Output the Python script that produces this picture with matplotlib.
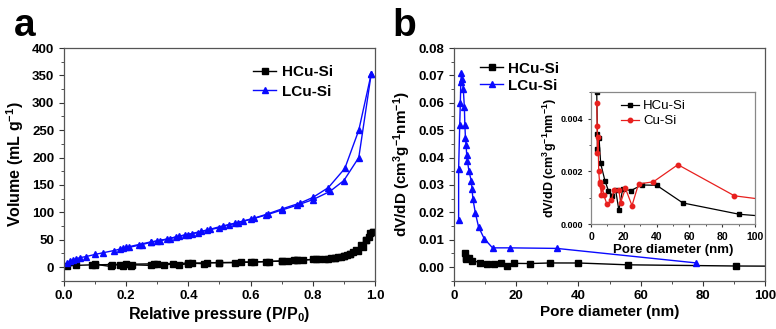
import numpy as np
import matplotlib.pyplot as plt
from matplotlib.ticker import MultipleLocator

plt.rcParams['font.family'] = ['Liberation Sans', 'DejaVu Sans']
plt.rcParams['font.weight'] = 'bold'
plt.rcParams['axes.labelweight'] = 'bold'
plt.rcParams['mathtext.fontset'] = 'custom'
plt.rcParams['mathtext.rm'] = 'Liberation Sans:bold'
plt.rcParams['mathtext.bf'] = 'Liberation Sans:bold'
plt.rcParams['mathtext.default'] = 'bf'

# --- panel a: N2 isotherms ---
h_ads_x = [0.01, 0.04, 0.09, 0.10, 0.15, 0.155, 0.18, 0.19, 0.215, 0.22, 0.28, 0.29, 0.32,
           0.35, 0.37, 0.40, 0.41, 0.45, 0.46, 0.50, 0.55, 0.57, 0.61, 0.65, 0.66, 0.70,
           0.72, 0.74, 0.75, 0.77, 0.81, 0.82, 0.85, 0.86, 0.87, 0.88, 0.89, 0.90, 0.91,
           0.92, 0.93, 0.945, 0.96, 0.97, 0.98, 0.994]
h_ads_y = [2, 3, 4, 5, 1, 4, 4, 1, 1, 4, 3, 5, 3, 6, 4, 6, 7, 6, 8, 8, 8, 9, 9, 10, 10, 11,
           11, 12, 12, 13, 14, 14, 15, 16, 17, 18, 19, 20, 22, 24, 27, 29, 37, 49, 55, 64]
h_des_x = [0.994, 0.985, 0.97, 0.955, 0.94, 0.92, 0.90, 0.87, 0.84, 0.80, 0.75, 0.70,
           0.60, 0.50, 0.40, 0.30, 0.20, 0.10]
h_des_y = [64, 62, 50, 40, 31, 24, 20, 17, 15, 14, 12, 11, 9, 8, 7, 6, 5, 4]

l_ads_x = [0.01, 0.02, 0.03, 0.04, 0.05, 0.07, 0.10, 0.125, 0.16, 0.19, 0.21, 0.25, 0.28,
           0.31, 0.34, 0.37, 0.40, 0.43, 0.46, 0.50, 0.53, 0.56, 0.60, 0.65, 0.70, 0.75,
           0.80, 0.855, 0.90, 0.948, 0.988]
l_ads_y = [8, 11, 13, 15, 17, 19, 23, 26, 30, 34, 36, 41, 45, 48, 52, 56, 59, 63, 67, 72,
           77, 81, 87, 95, 104, 113, 123, 138, 158, 200, 353]
l_des_x = [0.988, 0.948, 0.903, 0.85, 0.80, 0.76, 0.70, 0.655, 0.61, 0.575, 0.55, 0.51,
           0.47, 0.44, 0.41, 0.39, 0.36, 0.33, 0.30, 0.28, 0.24, 0.20, 0.18]
l_des_y = [353, 250, 180, 145, 127, 117, 106, 97, 89, 84, 80, 75, 69, 65, 61, 59, 55, 51,
           48, 46, 41, 36, 33]

# --- panel b: pore size distribution ---
l_psd_x = [1.5, 1.5, 1.85, 2.05, 2.2, 2.4, 2.7, 3.0, 3.35, 3.5, 3.7, 3.9, 4.1, 4.3, 4.8,
           5.6, 5.8, 6.1, 6.9, 7.9, 9.7, 12.4, 18.0, 33.0, 77.8]
l_psd_y = [0.0172, 0.0358, 0.0518, 0.060, 0.0675, 0.0708, 0.0687, 0.065, 0.0583, 0.052,
           0.047, 0.0444, 0.041, 0.0389, 0.0352, 0.0313, 0.0286, 0.0248, 0.0196, 0.0147,
           0.0104, 0.007, 0.007, 0.0068, 0.0015]
h_psd_x = [3.5, 3.9, 3.9, 4.9, 5.9, 8.5, 10.6, 13.0, 15.0, 17.0, 19.3, 24.4, 30.9, 40.0,
           56.0, 90.5, 115.0]
h_psd_y = [0.0050, 0.0034, 0.00286, 0.00327, 0.0023, 0.00164, 0.00127, 0.00108, 0.0013,
           0.00052, 0.00133, 0.00127, 0.00148, 0.00147, 0.0008, 0.00037, 0.00025]

# inset: Cu-Si
c_psd_x = [3.5, 3.8, 3.9, 4.3, 4.7, 5.2, 5.7, 6.3, 7.0, 7.8, 9.7, 12.5, 14.0, 17.0, 18.0,
           21.0, 25.0, 29.0, 38.0, 53.0, 87.5, 115.0]
c_psd_y = [0.0046, 0.0037, 0.0027, 0.0033, 0.0020, 0.0016, 0.0015, 0.0011, 0.0014, 0.0011,
           0.00075, 0.0009, 0.0013, 0.0013, 0.0008, 0.00135, 0.0007, 0.00152, 0.0016,
           0.00225, 0.00107, 0.00085]

BLUE = '#0a0aff'
RED = '#e8201e'

fig = plt.figure(figsize=(7.76, 3.29), dpi=100)

def style(ax, size=9.5):
    for s in ax.spines.values():
        s.set_color('#555555')
        s.set_linewidth(0.9)
    ax.tick_params(which='both', direction='out', top=False, right=False,
                   labelsize=size, color='#333333')
    ax.tick_params(which='major', length=3.5)
    ax.tick_params(which='minor', length=2)
    for t in ax.get_xticklabels() + ax.get_yticklabels():
        t.set_fontweight('bold')

# panel a
axa = fig.add_axes([0.0825, 0.1468, 0.4007, 0.7072])
axa.plot(h_ads_x, h_ads_y, '-s', color='black', ms=4.5, lw=1, label='HCu-Si')
axa.plot(h_des_x, h_des_y, '-s', color='black', ms=4.5, lw=1)
axa.plot(l_ads_x, l_ads_y, '-^', color=BLUE, ms=5, lw=1, label='LCu-Si')
axa.plot(l_des_x, l_des_y, '-^', color=BLUE, ms=5, lw=1)
axa.set_xlim(0, 1.0)
axa.set_ylim(-25, 400)
axa.xaxis.set_major_locator(MultipleLocator(0.2))
axa.xaxis.set_minor_locator(MultipleLocator(0.1))
axa.set_yticks(np.arange(0, 401, 50))
axa.yaxis.set_minor_locator(MultipleLocator(25))
axa.xaxis.set_major_formatter(lambda v, p: f'{v:.1f}')
style(axa)
axa.set_xlabel('Relative pressure (P/P$_0$)', fontsize=11.5, labelpad=2)
axa.set_ylabel('Volume (mL g$^{-1}$)', fontsize=11.5, labelpad=4)
axa.legend(loc='upper left', bbox_to_anchor=(0.565, 0.985), frameon=False, fontsize=11,
           handlelength=1.5, handletextpad=0.35, labelspacing=0.35)
fig.text(0.018, 0.89, 'a', fontsize=28, fontweight='bold')

# panel b
axb = fig.add_axes([0.585, 0.1468, 0.401, 0.7072])
axb.plot(h_psd_x, h_psd_y, '-s', color='black', ms=4.5, lw=1, label='HCu-Si')
axb.plot(l_psd_x, l_psd_y, '-^', color=BLUE, ms=5, lw=1, label='LCu-Si')
axb.set_xlim(0, 100)
axb.set_ylim(-0.005, 0.08)
axb.xaxis.set_major_locator(MultipleLocator(20))
axb.xaxis.set_minor_locator(MultipleLocator(10))
axb.set_yticks(np.arange(0, 0.0801, 0.01))
axb.yaxis.set_minor_locator(MultipleLocator(0.005))
axb.yaxis.set_major_formatter(lambda v, p: f'{v:.2f}')
style(axb)
axb.set_xlabel('Pore diameter (nm)', fontsize=11, labelpad=2)
axb.set_ylabel('dV/dD (cm$^3$g$^{-1}$nm$^{-1}$)', fontsize=11, labelpad=4)
axb.legend(loc='upper left', bbox_to_anchor=(0.04, 1.0), frameon=False, fontsize=11,
           handlelength=1.5, handletextpad=0.3, labelspacing=0.2)
fig.text(0.506, 0.89, 'b', fontsize=28, fontweight='bold')

# inset
axi = fig.add_axes([0.7616, 0.319, 0.2113, 0.401])
axi.plot(h_psd_x, h_psd_y, '-s', color='black', ms=3, lw=0.9, label='HCu-Si')
axi.plot(c_psd_x, c_psd_y, '-o', color=RED, ms=3.2, lw=0.9, label='Cu-Si')
axi.set_xlim(0, 100)
axi.set_ylim(0, 0.005)
axi.xaxis.set_major_locator(MultipleLocator(20))
axi.xaxis.set_minor_locator(MultipleLocator(10))
axi.set_yticks([0, 0.002, 0.004])
axi.yaxis.set_minor_locator(MultipleLocator(0.001))
axi.yaxis.set_major_formatter(lambda v, p: f'{v:.3f}')
style(axi, size=6.5)
axi.tick_params(axis='x', labelsize=7.5)
axi.tick_params(which='major', length=2.5)
axi.tick_params(which='minor', length=1.5)
for s in axi.spines.values():
    s.set_color('#888888')
axi.set_xlabel('Pore diameter (nm)', fontsize=9.5, labelpad=1)
axi.set_ylabel('dV/dD (cm$^3$g$^{-1}$nm$^{-1}$)', fontsize=9, labelpad=1)
axi.legend(loc='upper left', bbox_to_anchor=(0.11, 1.03), frameon=False,
           prop={'weight': 'normal', 'size': 9.5},
           handlelength=1.4, handletextpad=0.3, labelspacing=0.2)

fig.savefig('out.png', dpi=100)
